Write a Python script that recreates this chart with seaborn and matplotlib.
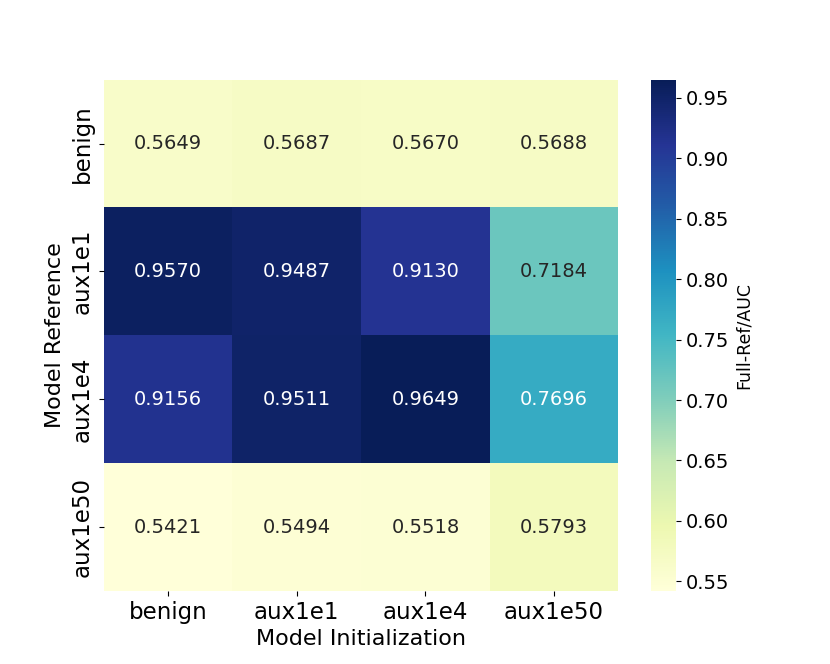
import numpy as np
import pandas as pd
import matplotlib
matplotlib.use("Agg")
import matplotlib.pyplot as plt
import seaborn as sns

# model names used for both axes
init_models = ["benign", "aux1e1", "aux1e4", "aux1e50"]
ref_models = ["benign", "aux1e1", "aux1e4", "aux1e50"]

# Full-Ref/AUC, rows = reference model, columns = initialization model
auc_benign = [0.5649, 0.5687, 0.5670, 0.5688]
auc_aux1e1 = [0.9570, 0.9487, 0.9130, 0.7184]
auc_aux1e4 = [0.9156, 0.9511, 0.9649, 0.7696]
auc_aux1e50 = [0.5421, 0.5494, 0.5518, 0.5793]

df = pd.DataFrame([auc_benign, auc_aux1e1, auc_aux1e4, auc_aux1e50],
                  index=ref_models, columns=init_models)

fig, ax = plt.subplots(figsize=(8.3, 6.64), dpi=100)
sns.heatmap(df, annot=True, fmt=".4f", cmap="YlGnBu", ax=ax,
            annot_kws={"size": 14},
            cbar_kws={"label": "Full-Ref/AUC"})

ax.set_xlabel("Model Initialization", fontsize=16)
ax.set_ylabel("Model Reference", fontsize=16)
ax.tick_params(axis="both", labelsize=16.5)

cbar = ax.collections[0].colorbar
cbar.ax.tick_params(labelsize=14)
cbar.set_label("Full-Ref/AUC", fontsize=12.5)

plt.savefig("out.png", dpi=100)
plt.close()
